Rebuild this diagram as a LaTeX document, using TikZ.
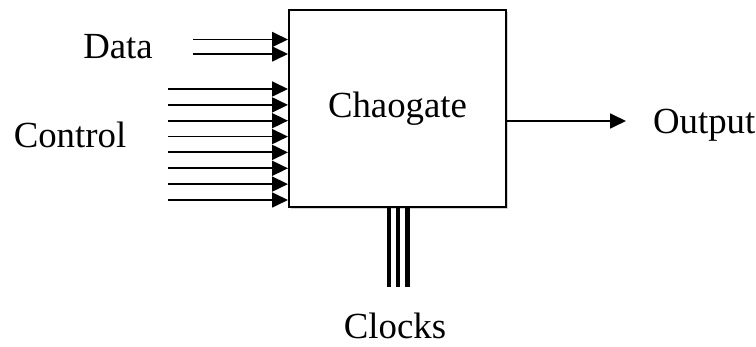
\documentclass[tikz,border=0pt]{standalone}
\usepackage{fontspec}
\setmainfont{Liberation Serif}
\usetikzlibrary{arrows.meta,shadows,positioning}

\tikzset{
  inarrow/.style={line width=0.9pt,-{Triangle[length=8pt,width=7.5pt]}},
  clockline/.style={line width=2.4pt},
  gatebox/.style={draw,line width=1pt,fill=white,minimum width=108.5pt,minimum height=98.5pt,
    drop shadow={shadow xshift=1pt,shadow yshift=-1pt,opacity=0.35}},
  lbl/.style={font=\fontsize{18.4}{22}\selectfont}
}

\begin{document}
\begin{tikzpicture}[x=0.5pt,y=-0.5pt]
    \useasboundingbox (0,0) rectangle (756,347);
    \node[gatebox,lbl] (gate) at (397.5,108.5) {Chaogate};
    %%
    \coordinate (d1) at (193,39.5);
    \coordinate (d2) at (193,54);
    \draw[inarrow] (d1) -- (d1 -| gate.west);
    \draw[inarrow] (d2) -- (d2 -| gate.west);
    \node[lbl] (data) at (118,47) {Data};
    %%
    \coordinate (c1) at (168,89);
    \coordinate (c2) at (168,104.9);
    \coordinate (c3) at (168,120.7);
    \coordinate (c4) at (168,136.6);
    \coordinate (c5) at (168,152.4);
    \coordinate (c6) at (168,168.3);
    \coordinate (c7) at (168,184.1);
    \coordinate (c8) at (168,200);
    \draw[inarrow] (c1) -- (c1 -| gate.west);
    \draw[inarrow] (c2) -- (c2 -| gate.west);
    \draw[inarrow] (c3) -- (c3 -| gate.west);
    \draw[inarrow] (c4) -- (c4 -| gate.west);
    \draw[inarrow] (c5) -- (c5 -| gate.west);
    \draw[inarrow] (c6) -- (c6 -| gate.west);
    \draw[inarrow] (c7) -- (c7 -| gate.west);
    \draw[inarrow] (c8) -- (c8 -| gate.west);
    \node[lbl] (control) at (70,135) {Control};
    %%
    \coordinate (o) at (626,121);
    \draw[inarrow] (o -| gate.east) -- (o);
    \node[lbl,anchor=west] (output) at (646,125) {Output};
    %%
    \coordinate (k1) at (389,287);
    \coordinate (k2) at (398,287);
    \coordinate (k3) at (407.5,287);
    \draw[clockline] (k1 |- gate.south) -- (k1);
    \draw[clockline] (k2 |- gate.south) -- (k2);
    \draw[clockline] (k3 |- gate.south) -- (k3);
    \node[lbl] (clocks) at (395,326) {Clocks};
\end{tikzpicture}
\end{document}
